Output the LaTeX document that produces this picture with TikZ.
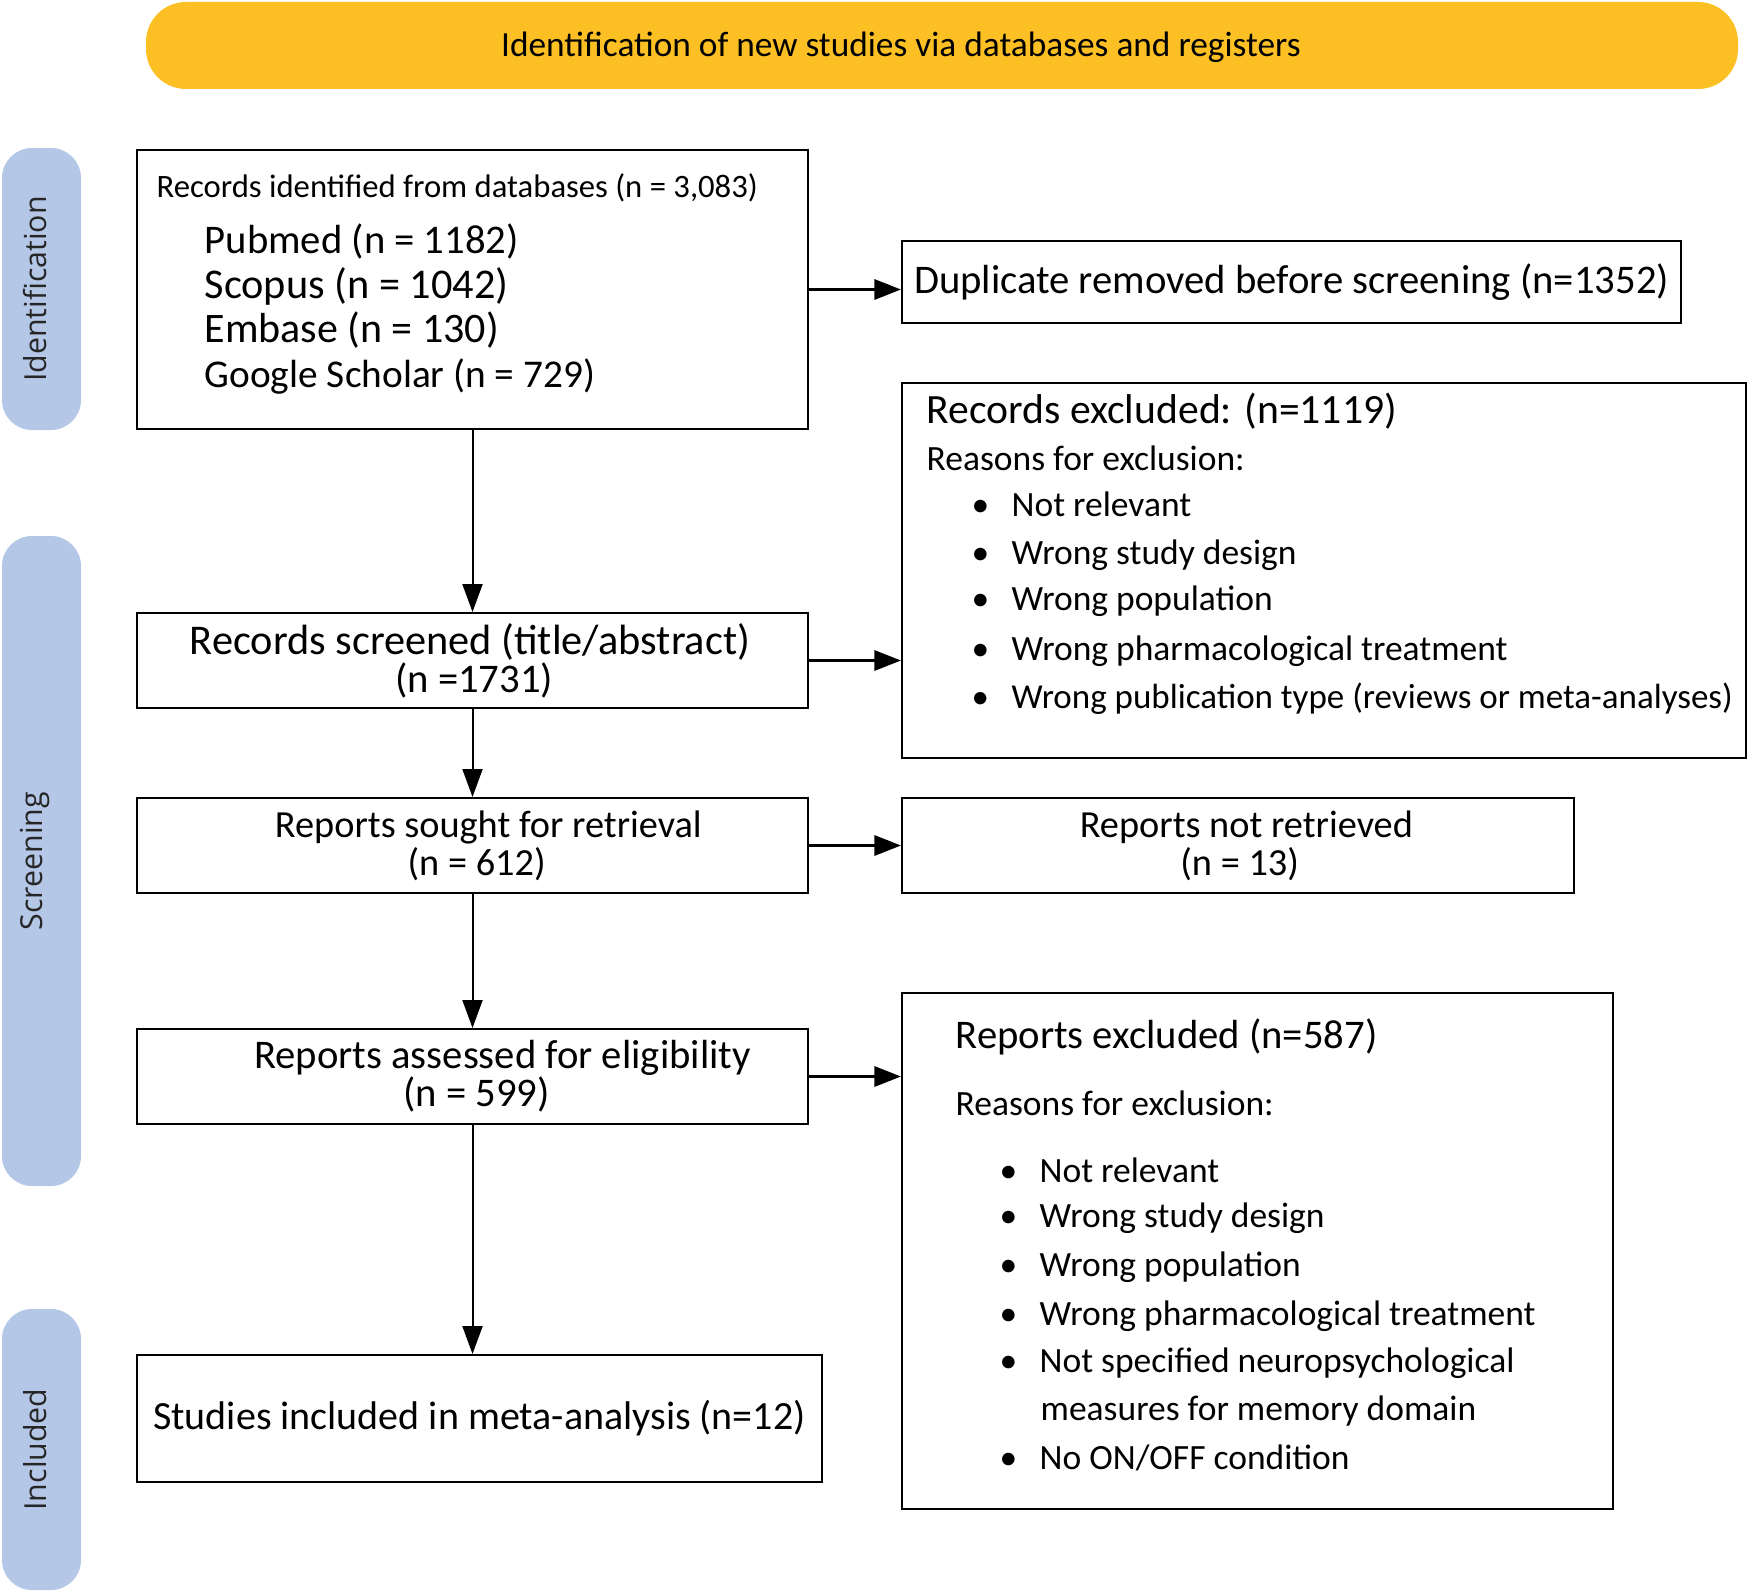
\documentclass[tikz,border=0pt]{standalone}
\usepackage{fontspec}
\setmainfont{Carlito}
\newfontfamily\sidefont{Open Sans}
\usetikzlibrary{arrows.meta, positioning}
\definecolor{bannergold}{RGB}{252,191,36}
\definecolor{sideblue}{RGB}{180,199,231}
\newcommand{\itembul}{\makebox[12pt][l]{\textbullet}}

\begin{document}
\begin{tikzpicture}[x=0.3pt,y=-0.3pt,
    box/.style={draw=black, line width=0.6pt, inner sep=0pt, align=center, font=\fontsize{12.2}{11.4}\selectfont},
    sidebar/.style={fill=sideblue, rounded corners=9pt, minimum width=23.7pt, inner sep=0pt},
    sidelabel/.style={xshift=-2pt, rotate=90, inner sep=0pt, text=black!85, font=\sidefont\fontsize{9.1}{11}\selectfont},
    txt/.style={anchor=west, inner sep=0pt, font=\fontsize{12.2}{14.6}\selectfont},
    small/.style={txt, font=\fontsize{10.65}{12.8}\selectfont},
    down/.style={-{Triangle[length=8.4pt,width=6pt]}, line width=0.6pt},
    side/.style={-{Triangle[length=8pt,width=6pt]}, line width=1pt}]
    \useasboundingbox (0,0) rectangle (1750,1592);

    % banner and phase bars
    \node[fill=bannergold, rounded corners=12pt, minimum width=477.6pt, minimum height=26.1pt, inner sep=0pt] (banner) at (942,45.5) {};
    \node[inner sep=0pt, font=\fontsize{10.6}{12}\selectfont] (title) at (901,47) {Identification of new studies via databases and registers};
    \node[sidebar, minimum height=84.6pt] (barid) at (41.5,289) {};
    \node[sidelabel] (labid) at (barid) {Identification};
    \node[sidebar, minimum height=195pt] (barscr) at (41.5,861) {};
    \node[sidelabel] (labscr) at (barscr) {Screening};
    \node[sidebar, minimum height=84.3pt] (barinc) at (41.5,1449.5) {};
    \node[sidelabel] (labinc) at (barinc) {Included};

    % left column
    \node[box, minimum width=201.3pt, minimum height=83.7pt] (ident) at (472.5,289.5) {};
    \node[txt, font=\fontsize{9.8}{12}\selectfont] (idhead) at (156,187.5) {Records identified from databases (n = 3,083)};
    \node[txt] (idpub) at (204,241) {Pubmed (n = 1182)};
    \node[txt, font=\fontsize{12.7}{14.6}\selectfont] (idsco) at (204,286) {Scopus (n = 1042)};
    \node[txt, font=\fontsize{12.6}{14.6}\selectfont] (idemb) at (204,330) {Embase (n = 130)};
    \node[txt, font=\fontsize{11.8}{14.6}\selectfont] (idgoo) at (204,376) {Google Scholar (n = 729)};
    \node[box, minimum width=201.3pt, minimum height=28.5pt] (screen) at (472.5,660.5) {{\fontsize{12.7}{11.4}\selectfont Records screened (title/abstract)}\hspace*{1.5pt}\\\hspace*{1pt}(n =1731)};
    \node[box, minimum width=201.3pt, minimum height=28.5pt, font=\fontsize{11.5}{11.4}\selectfont] (sought) at (472.5,845.5) {\hspace*{9.5pt}Reports sought for retrieval\\\hspace*{2.5pt}(n = 612)};
    \node[box, minimum width=201.3pt, minimum height=28.5pt] (assess) at (472.5,1076.5) {\hspace*{18pt}Reports assessed for eligibility\\\hspace*{2.5pt}(n = 599)};
    \node[box, minimum width=205.5pt, minimum height=38.1pt, font=\fontsize{12}{11.4}\selectfont] (incl) at (479.5,1418.5) {Studies included in meta-analysis (n=12)};

    % right column
    \node[box, minimum width=233.7pt, minimum height=24.6pt] (dup) at (1291.5,282) {Duplicate removed before screening (n=1352)};
    \node[box, minimum width=253.2pt, minimum height=112.5pt] (recexcl) at (1324,570.5) {};
    \node[txt, font=\fontsize{12.5}{14.6}\selectfont] (rehead) at (926,411) {Records excluded: (n=1119)};
    \node[small] (rereas) at (926,458) {Reasons for exclusion:};
    \node[small] (rea) at (971,504) {\itembul Not relevant};
    \node[small] (reb) at (971,555) {\itembul Wrong study design};
    \node[small] (rec) at (971,601) {\itembul Wrong population};
    \node[small] (red) at (971,651) {\itembul Wrong pharmacological treatment};
    \node[small, font=\fontsize{10.5}{12.8}\selectfont] (ree) at (971,699) {\itembul Wrong publication type (reviews or meta-analyses)};
    \node[box, minimum width=201.6pt, minimum height=28.5pt, font=\fontsize{11.5}{11.4}\selectfont] (notret) at (1238,845.5) {\hspace*{5pt}Reports not retrieved\\\hspace*{1pt}(n = 13)};
    \node[box, minimum width=213.3pt, minimum height=154.8pt] (repexcl) at (1257.5,1251) {};
    \node[txt] (rphead) at (955,1037) {Reports excluded (n=587)};
    \node[small] (rpreas) at (955,1103) {Reasons for exclusion:};
    \node[small] (rpa) at (999,1170) {\itembul Not relevant};
    \node[small] (rpb) at (999,1218) {\itembul Wrong study design};
    \node[small] (rpc) at (999,1267) {\itembul Wrong population};
    \node[small] (rpd) at (999,1316) {\itembul Wrong pharmacological treatment};
    \node[small] (rpe) at (999,1363) {\itembul Not specified neuropsychological};
    \node[small] (rpf) at (1040,1411) {measures for memory domain};
    \node[small] (rpg) at (999,1458) {\itembul No ON/OFF condition};

    % arrows
    \draw[down] (ident) -- (screen);
    \draw[down] (screen) -- (sought);
    \draw[down] (sought) -- (assess);
    \draw[down] (assess.south) -- (assess.south |- incl.north);
    \draw[side] (ident.east) -- (ident.east -| dup.west);
    \draw[side] (screen.east) -- (screen.east -| recexcl.west);
    \draw[side] (sought) -- (notret);
    \draw[side] (assess.east) -- (assess.east -| repexcl.west);
\end{tikzpicture}
\end{document}
